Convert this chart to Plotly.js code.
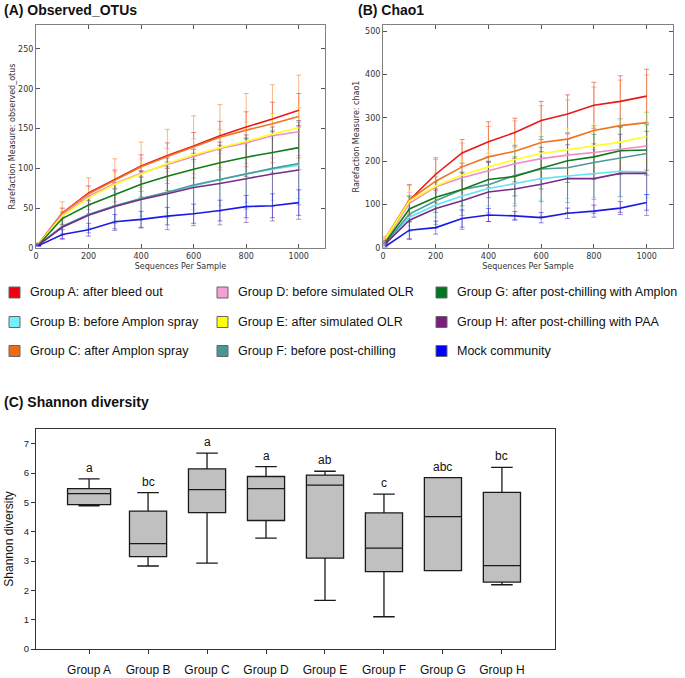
<!DOCTYPE html>
<html>
<head>
<meta charset="utf-8">
<script src="https://cdn.plot.ly/plotly-3.0.1.min.js"></script>
<style>
  html, body { margin: 0; padding: 0; background: #ffffff; }
  #chart { width: 685px; height: 678px; }
</style>
</head>
<body>
<div id="chart"></div>
<script>
// ---------------- DATA ----------------
const seqPerSample = [10, 100, 200, 300, 400, 500, 600, 700, 800, 900, 1000];
const seqTicks = [0, 200, 400, 600, 800, 1000];

const groupKeys = ["A", "B", "C", "D", "E", "F", "G", "H", "Mock"];
const groupLabels = [
  "Group A: after bleed out",
  "Group B: before Amplon spray",
  "Group C: after Amplon spray",
  "Group D: before simulated OLR",
  "Group E: after simulated OLR",
  "Group F: before post-chilling",
  "Group G: after post-chilling with Amplon",
  "Group H: after post-chilling with PAA",
  "Mock community"
];

// (A) Observed OTUs: mean and error at each depth
const otusA    = [5, 44, 69, 86, 103, 116, 128, 141, 152, 162, 173];
const otusB    = [4, 27, 42, 52, 62, 70, 78, 86, 93, 99, 104];
const otusC    = [5, 44, 68, 85, 102, 115, 127, 139, 148, 156, 165];
const otusD    = [5, 42, 65, 81, 94, 105, 115, 125, 132, 141, 146];
const otusE    = [5, 40, 63, 80, 93, 106, 117, 126, 134, 143, 151];
const otusF    = [4, 27, 42, 53, 62, 70, 79, 86, 93, 100, 106];
const otusG    = [4, 37, 54, 67, 80, 90, 99, 107, 114, 120, 126];
const otusH    = [4, 26, 41, 52, 61, 68, 76, 81, 87, 93, 98];
const otusMock = [3, 17, 23, 33, 36, 40, 43, 47, 52, 53, 57];

const otusErrA    = [1, 6, 9, 12, 14, 16, 17, 18, 19, 21, 21];
const otusErrB    = [1, 9, 14, 18, 22, 26, 30, 33, 36, 39, 42];
const otusErrC    = [1, 14, 20, 27, 31, 34, 39, 41, 46, 49, 52];
const otusErrD    = [1, 8, 12, 15, 18, 20, 22, 24, 26, 28, 30];
const otusErrE    = [1, 7, 10, 13, 15, 17, 19, 21, 23, 25, 27];
const otusErrF    = [1, 11, 17, 22, 27, 32, 36, 40, 44, 48, 52];
const otusErrG    = [1, 8, 11, 14, 16, 18, 20, 22, 24, 26, 28];
const otusErrH    = [1, 14, 22, 30, 36, 45, 48, 52, 55, 59, 62];
const otusErrMock = [1, 6, 8, 9, 10, 11, 12, 13, 14, 15, 16];

// (B) Chao1: mean and error at each depth
const chaoA    = [20, 110, 170, 219, 245, 266, 294, 309, 329, 338, 350];
const chaoB    = [12, 71, 99, 120, 137, 148, 160, 166, 172, 177, 175];
const chaoC    = [24, 111, 154, 187, 210, 223, 243, 251, 271, 282, 289];
const chaoD    = [18, 103, 141, 162, 178, 194, 206, 214, 220, 228, 235];
const chaoE    = [22, 108, 143, 168, 187, 204, 218, 227, 235, 244, 257];
const chaoF    = [12, 78, 109, 135, 146, 167, 182, 185, 197, 208, 218];
const chaoG    = [14, 90, 117, 135, 158, 165, 184, 201, 210, 224, 226];
const chaoH    = [10, 64, 91, 109, 129, 136, 147, 160, 160, 172, 172];
const chaoMock = [4, 41, 47, 68, 76, 74, 70, 80, 85, 92, 105];

const chaoErrA    = [3, 36, 38, 31, 46, 33, 44, 44, 53, 59, 62];
const chaoErrB    = [2, 20, 28, 35, 40, 45, 50, 52, 55, 58, 60];
const chaoErrC    = [3, 34, 50, 55, 70, 70, 85, 90, 100, 105, 110];
const chaoErrD    = [2, 25, 30, 35, 40, 42, 45, 48, 50, 52, 55];
const chaoErrE    = [2, 25, 30, 35, 40, 42, 45, 48, 50, 52, 55];
const chaoErrF    = [2, 40, 55, 60, 65, 70, 75, 80, 85, 90, 95];
const chaoErrG    = [2, 30, 35, 38, 42, 45, 48, 50, 52, 55, 58];
const chaoErrH    = [2, 44, 45, 66, 68, 70, 75, 78, 80, 90, 97];
const chaoErrMock = [2, 20, 15, 20, 15, 10, 12, 12, 14, 15, 18];

// (C) Shannon diversity box statistics
const shannonGroups   = ["Group A", "Group B", "Group C", "Group D", "Group E", "Group F", "Group G", "Group H"];
const shannonLower    = [4.88, 2.83, 2.93, 3.78, 1.66, 1.10, 2.67, 2.19];
const shannonQ1       = [4.92, 3.15, 4.65, 4.38, 3.10, 2.64, 2.67, 2.28];
const shannonMedian   = [5.30, 3.59, 5.43, 5.47, 5.59, 3.44, 4.51, 2.84];
const shannonQ3       = [5.47, 4.70, 6.14, 5.88, 5.93, 4.64, 5.84, 5.34];
const shannonUpper    = [5.80, 5.33, 6.68, 6.22, 6.06, 5.28, 5.84, 6.19];
const shannonLetters  = ["a", "bc", "a", "a", "ab", "c", "abc", "bc"];

// ---------------- STYLE ----------------
const W = 685, H = 678;
const px = x => x / W;
const py = y => 1 - y / H;

const lineColors = {
  A: "#e81818", B: "#5ee6f2", C: "#ee7420", D: "#f08ccc", E: "#ffff22",
  F: "#4c9a9a", G: "#127a1a", H: "#7a2a88", Mock: "#1a1ae8"
};
const swatchColors = {
  A: "#ee0011", B: "#70f0ff", C: "#f06a14", D: "#f4a0d4", E: "#ffff00",
  F: "#4a9696", G: "#00761e", H: "#7c1c80", Mock: "#0000ff"
};
function rgba(hex, a) {
  const n = parseInt(hex.slice(1), 16);
  return `rgba(${(n >> 16) & 255},${(n >> 8) & 255},${n & 255},${a})`;
}
const mplFont = { family: "DejaVu Sans, sans-serif", size: 8, color: "#333333" };
const arialFamily = "Liberation Sans, Arial, sans-serif";

const otusMeans = { A: otusA, B: otusB, C: otusC, D: otusD, E: otusE, F: otusF, G: otusG, H: otusH, Mock: otusMock };
const otusErrs  = { A: otusErrA, B: otusErrB, C: otusErrC, D: otusErrD, E: otusErrE, F: otusErrF, G: otusErrG, H: otusErrH, Mock: otusErrMock };
const chaoMeans = { A: chaoA, B: chaoB, C: chaoC, D: chaoD, E: chaoE, F: chaoF, G: chaoG, H: chaoH, Mock: chaoMock };
const chaoErrs  = { A: chaoErrA, B: chaoErrB, C: chaoErrC, D: chaoErrD, E: chaoErrE, F: chaoErrF, G: chaoErrG, H: chaoErrH, Mock: chaoErrMock };

// ---------------- TRACES ----------------
const traces = [];
function addRarefaction(means, errs, xa, ya) {
  groupKeys.forEach(k => {
    traces.push({
      type: "scatter", mode: "markers", x: seqPerSample, y: means[k],
      xaxis: xa, yaxis: ya, showlegend: false, hoverinfo: "skip",
      marker: { size: 1, color: "rgba(0,0,0,0)" },
      error_y: { type: "data", array: errs[k], visible: true,
                 color: rgba(lineColors[k], 0.5), thickness: 1, width: 2.5 }
    });
  });
  groupKeys.forEach((k, i) => {
    traces.push({
      type: "scatter", mode: "lines", x: seqPerSample, y: means[k],
      xaxis: xa, yaxis: ya, name: groupLabels[i], showlegend: false,
      line: { color: lineColors[k], width: 1.6 }
    });
  });
}
addRarefaction(otusMeans, otusErrs, "x", "y");
addRarefaction(chaoMeans, chaoErrs, "x2", "y2");

shannonGroups.forEach((g, i) => {
  const wide = i === 0;
  traces.push({
    type: "box", orientation: "v", x: [g],
    q1: [shannonQ1[i]], median: [shannonMedian[i]], q3: [shannonQ3[i]],
    lowerfence: [shannonLower[i]], upperfence: [shannonUpper[i]],
    xaxis: "x3", yaxis: "y3", name: g, showlegend: false, boxpoints: false,
    fillcolor: "#c0c0c0", line: { color: "#1a1a1a", width: 1.3 },
    width: wide ? 0.73 : 0.63, whiskerwidth: wide ? 0.49 : 0.58
  });
});

// ---------------- LAYOUT ----------------
const annotations = [];
const shapes = [];

function panelTitle(text, x, y) {
  annotations.push({
    xref: "paper", yref: "paper", x: px(x), y: py(y), xanchor: "left", yanchor: "middle",
    text: "<b>" + text + "</b>", showarrow: false,
    font: { family: arialFamily, size: 14, color: "#111111" }
  });
}
panelTitle("(A) Observed_OTUs", 2, 10);
panelTitle("(B) Chao1", 356, 10);
panelTitle("(C) Shannon diversity", 2, 402);

// custom legend: 3 columns x 3 rows
const legCols = [9, 217, 436];
const legRows = [292.5, 322, 351];
groupKeys.forEach((k, i) => {
  const c = Math.floor(i / 3), r = i % 3;
  const x = legCols[c], y = legRows[r];
  shapes.push({
    type: "rect", xref: "paper", yref: "paper",
    x0: px(x), x1: px(x + 11), y0: py(y + 5.5), y1: py(y - 5.5),
    fillcolor: swatchColors[k], line: { color: "#666666", width: 1 }
  });
  annotations.push({
    xref: "paper", yref: "paper", x: px(x + 19), y: py(y), xanchor: "left", yanchor: "middle",
    text: groupLabels[i], showarrow: false,
    font: { family: arialFamily, size: 12.5, color: "#111111" }
  });
});

// significance letters
shannonGroups.forEach((g, i) => {
  annotations.push({
    xref: "x3", yref: "y3", x: g, y: shannonUpper[i], yanchor: "bottom", yshift: 2,
    text: shannonLetters[i], showarrow: false,
    font: { family: arialFamily, size: 12, color: "#111111" }
  });
});

function rareX(domain) {
  return {
    domain: domain, range: [0, 1100], tickvals: seqTicks, ticktext: seqTicks.map(String),
    ticks: "inside", ticklen: 4, tickcolor: "#555555", mirror: "ticks",
    showline: true, linecolor: "#808080", linewidth: 1, showgrid: false, zeroline: false,
    tickfont: mplFont,
    title: { text: "Sequences Per Sample", font: mplFont, standoff: 3 }
  };
}
function rareY(range, dtick, title, anchor, standoff) {
  return {
    domain: [py(248), py(25)], anchor: anchor, range: range, dtick: dtick, tick0: 0,
    ticks: "inside", ticklen: 4, tickcolor: "#555555", mirror: "ticks",
    showline: true, linecolor: "#808080", linewidth: 1, showgrid: false, zeroline: false,
    tickfont: mplFont,
    title: { text: title, font: mplFont, standoff: standoff }
  };
}

const layout = {
  width: W, height: H, autosize: false,
  margin: { l: 0, r: 0, t: 0, b: 0 },
  paper_bgcolor: "#ffffff", plot_bgcolor: "#ffffff",
  showlegend: false, boxmode: "overlay",
  xaxis:  Object.assign(rareX([px(36), px(325)]), { anchor: "y" }),
  yaxis:  rareY([0, 280], 50, "Rarefaction Measure: observed_otus", "x", 1),
  xaxis2: Object.assign(rareX([px(383), px(673)]), { anchor: "y2" }),
  yaxis2: rareY([0, 514], 100, "Rarefaction Measure: chao1", "x2", 4),
  xaxis3: {
    domain: [px(36), px(555)], anchor: "y3", type: "category",
    categoryorder: "array", categoryarray: shannonGroups, range: [-0.9, 7.9],
    ticks: "outside", ticklen: 4, tickcolor: "#333333",
    showline: true, mirror: true, linecolor: "#333333", linewidth: 1,
    showgrid: false, zeroline: false, ticklabelstandoff: 6,
    tickfont: { family: arialFamily, size: 12, color: "#111111" }
  },
  yaxis3: {
    domain: [py(649), py(429)], anchor: "x3", range: [0, 7.5],
    tickvals: [0, 1, 2, 3, 4, 5, 6, 7],
    ticks: "outside", ticklen: 4, tickcolor: "#333333",
    showline: true, mirror: true, linecolor: "#333333", linewidth: 1,
    showgrid: false, zeroline: false,
    tickfont: { family: arialFamily, size: 9.5, color: "#222222" },
    title: { text: "Shannon diversity", font: { family: arialFamily, size: 12, color: "#111111" }, standoff: 7 }
  },
  annotations: annotations,
  shapes: shapes
};

Plotly.newPlot("chart", traces, layout, { staticPlot: true, displayModeBar: false });
</script>
</body>
</html>
